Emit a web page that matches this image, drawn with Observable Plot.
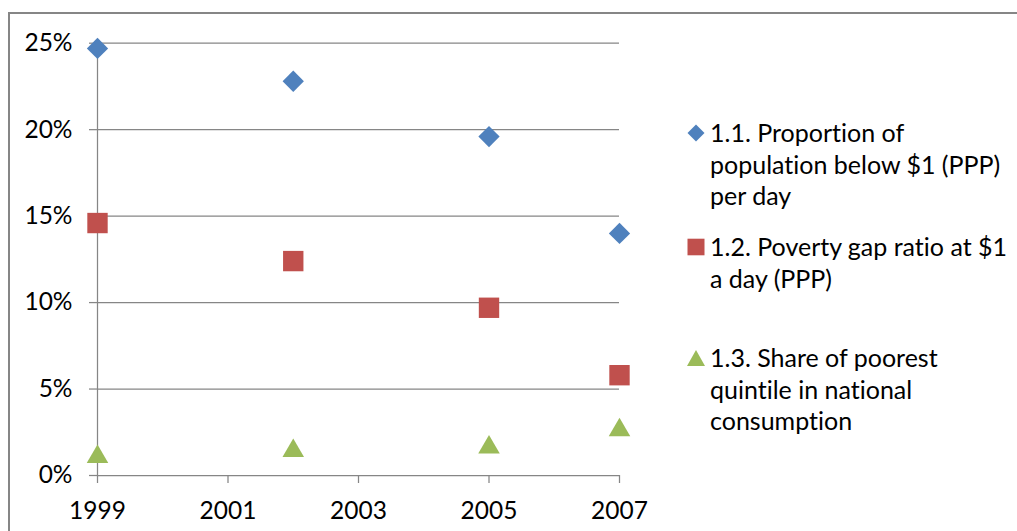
<!DOCTYPE html>
<html>
<head>
<meta charset="utf-8">
<script src="https://cdn.jsdelivr.net/npm/d3@7"></script>
<script src="https://cdn.jsdelivr.net/npm/@observablehq/plot@0.6"></script>
<style>
  body { margin: 0; background: #fff; }
  #wrap { position: relative; width: 1017px; height: 531px; overflow: hidden; font-family: Lato, "Open Sans", sans-serif; color: #000; font-variant-ligatures: none; }
  #frame { position: absolute; left: 8px; top: 12px; width: 1040px; height: 600px; border-left: 2px solid #868686; border-top: 2px solid #868686; box-sizing: border-box; }
  #chart { position: absolute; left: 0; top: 0; }
  .item { position: absolute; left: 710px; font-size: 25px; line-height: 31.7px; white-space: nowrap; font-variant-ligatures: none; }
  .key { position: absolute; }
</style>
</head>
<body>
<div id="wrap">
  <div id="frame"></div>
  <div id="chart"></div>
  <div id="legend"></div>
</div>
<script>
// Survey years and the three poverty indicators (shares of 1)
const years = [1999, 2002, 2005, 2007];
const proportionBelow1 = [0.247, 0.228, 0.196, 0.140];
const povertyGapRatio = [0.146, 0.124, 0.097, 0.058];
const poorestQuintileShare = [0.0125, 0.016, 0.018, 0.028];

const seriesNames = [
  ["1.1. Proportion of", "population below $1 (PPP)", "per day"],
  ["1.2. Poverty gap ratio at $1", "a day (PPP)"],
  ["1.3. Share of poorest", "quintile in national", "consumption"]
];
const seriesColors = ["#4F81BD", "#C0504D", "#9BBB59"];

const xTicks = [1999, 2001, 2003, 2005, 2007];
const yTicks = [0, 0.05, 0.10, 0.15, 0.20, 0.25];

const gridColor = "#868686";

const toRows = (vals) => years.map((year, i) => ({year, value: vals[i]}));

const chart = Plot.plot({
  width: 1017,
  height: 531,
  marginLeft: 97,
  marginRight: 398,
  marginTop: 42.7,
  marginBottom: 56,
  style: {fontFamily: "Lato, 'Open Sans', sans-serif", fontSize: "24.5px", color: "#000", background: "transparent", overflow: "visible"},
  x: {domain: [1999, 2007], label: null},
  y: {domain: [0, 0.25], label: null},
  marks: [
    Plot.gridY(yTicks, {stroke: gridColor, strokeOpacity: 1, strokeWidth: 1.25}),
    Plot.ruleX([1999], {stroke: gridColor, strokeWidth: 1.25}),
    Plot.axisY({ticks: yTicks, tickFormat: d3.format(".0%"), tickSize: 8, tickPadding: 17,
      stroke: gridColor, strokeWidth: 1.25, fill: "#000"}),
    Plot.axisX({ticks: xTicks, tickFormat: d => String(d), tickSize: 8, tickPadding: 18,
      stroke: gridColor, strokeWidth: 1.25, fill: "#000"}),
    Plot.dot(toRows(proportionBelow1), {x: "year", y: "value", symbol: "diamond2", r: 9.6, fill: seriesColors[0]}),
    Plot.dot(toRows(povertyGapRatio), {x: "year", y: "value", symbol: "square", r: 11.5, fill: seriesColors[1]}),
    Plot.dot(toRows(poorestQuintileShare), {x: "year", y: "value", symbol: "triangle", r: 8, dy: 3, fill: seriesColors[2]})
  ]
});
document.getElementById("chart").appendChild(chart);

// Legend: one block per indicator, wrapped text with its marker
const legend = document.getElementById("legend");
const itemTops = [117, 231, 342];
const keyShapes = [
  '<svg width="18" height="18" viewBox="-9 -9 18 18"><path d="M0,-8.5L8.5,0L0,8.5L-8.5,0Z" fill="' + seriesColors[0] + '"/></svg>',
  '<svg width="18" height="18" viewBox="-9 -9 18 18"><rect x="-8.5" y="-8.3" width="17" height="16.6" fill="' + seriesColors[1] + '"/></svg>',
  '<svg width="18" height="18" viewBox="-9 -9 18 18"><path d="M0,-8L9,8L-9,8Z" fill="' + seriesColors[2] + '"/></svg>'
];
seriesNames.forEach((lines, i) => {
  const item = document.createElement("div");
  item.className = "item";
  item.style.top = itemTops[i] + "px";
  item.innerHTML = lines.join("<br>");
  legend.appendChild(item);
  const key = document.createElement("div");
  key.className = "key";
  key.style.left = "687px";
  key.style.top = (itemTops[i] + 7) + "px";
  key.innerHTML = keyShapes[i];
  legend.appendChild(key);
});
</script>
</body>
</html>
